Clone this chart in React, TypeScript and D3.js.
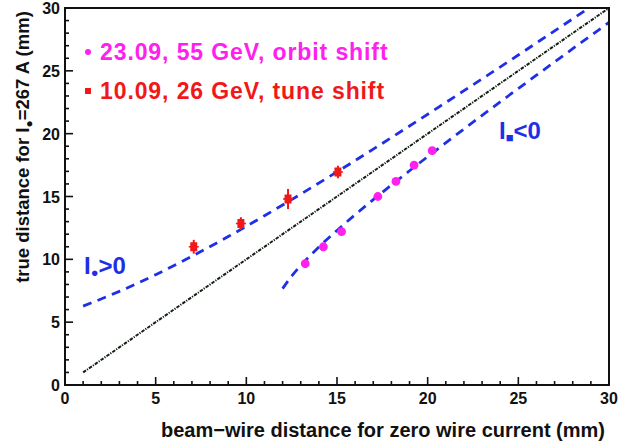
import React from "react";
import * as d3 from "d3";

const W = 634;
const H = 441;
const M = { left: 65, right: 25, top: 8, bottom: 56 };

// Data
const orbitX = [13.25, 14.25, 15.25, 17.25, 18.25, 19.25, 20.25];
const orbitY = [9.65, 11.0, 12.2, 15.0, 16.2, 17.5, 18.65];

const tuneX = [7.1, 9.7, 12.3, 15.05];
const tuneY = [11.0, 12.85, 14.8, 16.95];
const tuneErr = [0.55, 0.5, 0.8, 0.5];

const upperX = [1, 3, 5, 7, 9, 11, 13, 15, 17, 19, 21, 23, 25, 27, 28.9];
const upperY = [6.28, 7.45, 8.78, 10.24, 11.81, 13.47, 15.19, 16.96, 18.77, 20.61, 22.48, 24.36, 26.26, 28.18, 30.0];

const lowerX = [12.0, 12.5, 13, 14, 15, 16, 17, 18, 19, 20, 22, 24, 26, 28, 30];
const lowerY = [7.67, 8.67, 9.51, 10.98, 12.3, 13.55, 14.75, 15.91, 17.05, 18.17, 20.37, 22.53, 24.65, 26.76, 28.85];

const diagX = [1, 30];
const diagY = [1, 30];

const xTicks = [0, 5, 10, 15, 20, 25, 30];
const yTicks = [0, 5, 10, 15, 20, 25, 30];

const FONT = "'Liberation Sans', Arial, sans-serif";
const BLUE = "#1f2fe6";
const MAGENTA = "#ff20ee";
const RED = "#f01818";

export default function App() {
  const x = d3.scaleLinear().domain([0, 30]).range([M.left, W - M.right]);
  const y = d3.scaleLinear().domain([0, 30]).range([H - M.bottom, M.top]);
  const line = d3
    .line<[number, number]>()
    .x((d) => x(d[0]))
    .y((d) => y(d[1]))
    .curve(d3.curveMonotoneX);

  const upper = upperX.map((v, i) => [v, upperY[i]] as [number, number]);
  const lower = lowerX.map((v, i) => [v, lowerY[i]] as [number, number]);
  const diag = diagX.map((v, i) => [v, diagY[i]] as [number, number]);

  const minor = d3.range(0, 31, 1);
  const x0 = x(0);
  const y0 = y(0);

  return (
    <svg
      width={W}
      height={H}
      style={{ position: "absolute", left: 0, top: 0, background: "#fff" }}
      fontFamily={FONT}
    >
      <rect width={W} height={H} fill="#fff" />
      {/* diagonal dash-dot */}
      <path
        d={line(diag) || ""}
        fill="none"
        stroke="#142014"
        strokeWidth={2}
        strokeDasharray="3.5,1.2,1.2,1.2"
      />
      {/* theory curves */}
      <path d={line(upper) || ""} fill="none" stroke={BLUE} strokeWidth={2.8} strokeDasharray="9,6.5" />
      <path d={line(lower) || ""} fill="none" stroke={BLUE} strokeWidth={2.8} strokeDasharray="9,6.5" />

      {/* orbit shift points */}
      {orbitX.map((v, i) => (
        <circle key={"o" + i} cx={x(v)} cy={y(orbitY[i])} r={4.4} fill={MAGENTA} />
      ))}
      {/* tune shift points */}
      {tuneX.map((v, i) => (
        <g key={"t" + i}>
          <line
            x1={x(v)}
            x2={x(v)}
            y1={y(tuneY[i] - tuneErr[i])}
            y2={y(tuneY[i] + tuneErr[i])}
            stroke={RED}
            strokeWidth={2}
          />
          <line x1={x(v) - 5} x2={x(v) + 5} y1={y(tuneY[i])} y2={y(tuneY[i])} stroke={RED} strokeWidth={1.5} />
          <rect x={x(v) - 3.5} y={y(tuneY[i]) - 4.5} width={7} height={9} fill={RED} />
        </g>
      ))}

      {/* frame */}
      <rect
        x={M.left}
        y={M.top}
        width={W - M.left - M.right}
        height={H - M.top - M.bottom}
        fill="none"
        stroke="#111"
        strokeWidth={2}
      />
      {/* ticks */}
      {minor.map((t) => (
        <line
          key={"xt" + t}
          x1={x(t)}
          x2={x(t)}
          y1={y0}
          y2={y0 - (t % 5 === 0 ? 8 : 4)}
          stroke="#111"
          strokeWidth={1.6}
        />
      ))}
      {minor.map((t) => (
        <line
          key={"yt" + t}
          x1={x0}
          x2={x0 + (t % 5 === 0 ? 8 : 4)}
          y1={y(t)}
          y2={y(t)}
          stroke="#111"
          strokeWidth={1.6}
        />
      ))}
      {xTicks.map((t) => (
        <text key={"xl" + t} x={x(t)} y={y0 + 19} fontSize={16} fontWeight="bold" textAnchor="middle" fill="#111">
          {t}
        </text>
      ))}
      {yTicks.map((t) => (
        <text key={"yl" + t} x={x0 - 5} y={y(t) + 6} fontSize={16} fontWeight="bold" textAnchor="end" fill="#111">
          {t}
        </text>
      ))}

      {/* axis titles */}
      <text x={605} y={437} fontSize={20} fontWeight="bold" textAnchor="end" fill="#111">
        beam−wire distance for zero wire current (mm)
      </text>
      <text
        transform={`translate(29,147) rotate(-90)`}
        fontSize={18.5}
        fontWeight="bold"
        textAnchor="middle"
        fill="#111"
      >
        true distance for I<tspan fontSize={12} dy={4}>●</tspan>
        <tspan dy={-4}>=267 A (mm)</tspan>
      </text>

      {/* legend */}
      <circle cx={88} cy={52} r={3} fill={MAGENTA} />
      <text x={100} y={60} fontSize={23} fontWeight="bold" letterSpacing={0.9} fill={MAGENTA}>
        23.09, 55 GeV, orbit shift
      </text>
      <rect x={85} y={88} width={6} height={6} fill={RED} />
      <text x={100} y={99} fontSize={23} fontWeight="bold" letterSpacing={0.9} fill={RED}>
        10.09, 26 GeV, tune shift
      </text>

      {/* curve labels */}
      <text x={84} y={274} fontSize={24} fontWeight="bold" fill={BLUE}>
        I<tspan fontSize={13} dy={3}>●</tspan>
        <tspan dy={-3}>&gt;0</tspan>
      </text>
      <text x={499} y={139} fontSize={24} fontWeight="bold" fill={BLUE}>
        I<tspan fontSize={13} dy={3}>■</tspan>
        <tspan dy={-3}>&lt;0</tspan>
      </text>
    </svg>
  );
}
